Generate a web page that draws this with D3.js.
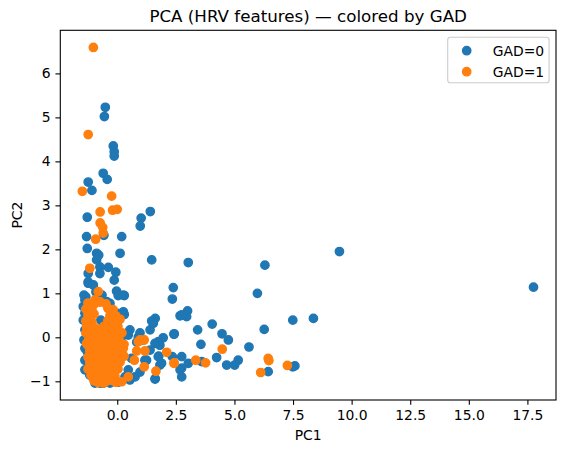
<!DOCTYPE html>
<html>
<head>
<meta charset="utf-8">
<script src="https://cdn.jsdelivr.net/npm/d3@7"></script>
<style>
  html, body { margin: 0; padding: 0; background: #fff; }
  svg { display: block; font-family: "DejaVu Sans", sans-serif; }
</style>
</head>
<body>
<svg id="chart" width="565" height="453"></svg>
<script>
// ---- data ----
const title = "PCA (HRV features) — colored by GAD";
const xLabel = "PC1";
const yLabel = "PC2";
const seriesNames = ["GAD=0", "GAD=1"];
const seriesColors = ["#1f77b4", "#ff7f0e"];
const xTicks = [0, 2.5, 5, 7.5, 10, 12.5, 15, 17.5];
const yTicks = [-1, 0, 1, 2, 3, 4, 5, 6];
const xDomain = [-2.43, 18.72];
const yDomain = [-1.425, 6.98];

const gad0 = [
  [-0.51,5.23],[-0.55,5.02],[-0.17,4.35],[-0.13,4.22],[-0.13,4.12],[-0.60,3.73],[-0.43,3.59],
  [-1.24,3.53],[-1.08,3.34],[1.41,2.86],[-1.28,2.73],[1.02,2.71],[0.98,2.53],[-1.31,2.29],
  [-0.57,2.32],[0.19,2.29],[-1.28,2.02],[0.12,1.91],[-0.88,1.91],[-0.79,1.87],[1.47,1.76],
  [3.03,1.70],[6.30,1.64],[-0.88,1.76],[-0.74,1.60],[-0.38,1.59],[-0.74,1.45],[-0.06,1.48],
  [-1.24,1.45],[-0.13,1.30],[-1.24,1.26],[2.39,1.13],[5.98,1.00],[-0.03,1.05],[0.30,0.95],
  [-1.34,0.92],[2.35,0.87],[0.04,0.95],[2.68,0.49],[3.00,0.60],[2.96,0.47],[2.75,0.51],
  [4.05,0.30],[7.49,0.39],[8.37,0.43],[9.48,1.95],[17.76,1.14],[1.62,0.43],[1.47,0.37],
  [1.40,0.17],[3.43,0.17],[6.27,0.18],[2.42,0.07],[4.47,0.08],[4.74,-0.06],[3.57,-0.16],
  [5.62,-0.22],[1.96,-0.01],[1.77,-0.43],[2.35,-0.44],[2.75,-0.44],[4.24,-0.46],[3.60,-0.55],
  [3.03,-0.59],[5.16,-0.52],[1.82,-0.63],[4.67,-0.63],[5.01,-0.63],[6.44,-0.78],[7.58,-0.65],
  [7.49,-0.67],[1.62,-0.94],[2.75,-0.90],[2.75,-0.70],[1.25,-0.52],[0.83,-0.11],[0.54,0.17],
  [0.47,0.05],[-1.24,1.23],[-1.02,1.19],[0.26,0.96],[-1.38,0.85],[-0.45,0.81],[-0.31,0.77],
  [-0.03,0.55],[0.26,0.58],[0.40,0.09],[0.90,0.01],[1.11,-0.06],[1.75,-0.10],[0.19,0.01],
  [0.61,-0.48],[1.75,-0.44],[1.18,-0.52],[0.76,-0.90],[0.33,-0.90],[-0.60,-1.04],[-1.17,-0.86],
  [-1.38,-0.25],[-1.38,-0.52],[-1.38,-0.74],[-1.45,0.39],[-1.38,0.55],[-1.45,0.70],[1.54,0.32],
  [2.43,0.08],[1.82,-0.18],[1.61,-0.14],[1.89,-0.59],[1.61,-0.95],[0.47,-0.74],[2.68,-0.74],
  [-1.38,0.17],[-1.42,-0.06],[-0.95,-1.04],[-0.31,-1.04],[0.03,-1.02],[0.54,-0.97],[0.97,-0.79],
  [1.40,-0.29],[-0.65,0.96],[-0.91,1.03],[0.97,0.10],[-1.42,0.96],[-1.28,-0.33],[-0.74,-1.04],
  [0.30,0.52],[-0.70,0.39],[-0.57,0.30]
];

const gad1 = [
  [-1.02,6.59],[-1.24,4.61],[-1.49,3.32],[-0.24,3.21],[-0.20,2.89],[0.00,2.91],[-0.73,2.85],
  [-0.73,2.60],[-0.62,2.50],[-0.60,2.37],[-0.92,2.23],[-1.17,1.57],[-0.81,1.04],[4.48,-0.27],
  [2.11,-0.34],[3.35,-0.52],[3.77,-0.58],[2.42,-0.59],[6.44,-0.48],[6.47,-0.53],[6.12,-0.80],
  [7.26,-0.64],[1.65,-0.77],[1.15,-0.67],[1.15,-0.06],[0.97,-0.06],[1.18,-0.31],[0.83,-0.31],
  [0.73,-0.52],[0.12,0.41],[0.26,-0.25],[0.19,-1.01],[0.47,-0.90],[-0.52,-1.01],[-1.02,-0.93],
  [-0.88,-0.82],[-1.31,-0.14],[-1.31,0.24],[0.90,-0.10],[2.43,-0.58],[0.04,0.39],[-0.95,0.85],
  [-0.74,0.81],[-1.14,0.68],
  [-1.25,0.78],[-0.99,0.75],[-0.74,0.80],[-0.48,0.76],
  [-1.34,0.64],[-1.08,0.62],[-0.40,0.66],[-0.18,0.63],
  [-1.25,0.51],[-0.99,0.53],[-0.31,0.50],[-0.06,0.49],
  [-1.34,0.37],[-1.08,0.35],[-0.40,0.38],[-0.14,0.36],
  [-1.25,0.23],[-0.91,0.21],[-0.57,0.25],[-0.23,0.22],[0.03,0.24],
  [-1.34,0.10],[-1.08,0.08],[-0.82,0.11],[-0.57,0.09],[-0.31,0.12],[-0.06,0.07],[0.20,0.10],
  [-1.21,-0.04],[-0.95,-0.02],[-0.70,-0.05],[-0.44,-0.03],[-0.18,-0.06],[0.07,-0.04],
  [-1.25,-0.18],[-0.99,-0.16],[-0.74,-0.19],[-0.48,-0.17],[-0.23,-0.20],[0.03,-0.18],[0.29,-0.16],
  [-1.17,-0.31],[-0.91,-0.33],[-0.65,-0.30],[-0.40,-0.32],[-0.14,-0.31],[0.12,-0.29],
  [-1.25,-0.45],[-0.99,-0.43],[-0.74,-0.46],[-0.48,-0.44],[-0.23,-0.47],[0.03,-0.45],[0.29,-0.43],
  [-1.17,-0.58],[-0.91,-0.60],[-0.65,-0.57],[-0.40,-0.59],[-0.14,-0.58],[0.12,-0.56],
  [-1.25,-0.72],[-0.99,-0.70],[-0.74,-0.73],[-0.48,-0.71],[-0.23,-0.74],[0.03,-0.72],
  [-1.12,-0.86],[-0.87,-0.84],[-0.61,-0.87],[-0.35,-0.85],[-0.10,-0.88],
  [-0.99,-0.99],[-0.74,-0.97],[-0.48,-1.00],[-0.23,-0.98],[-0.01,-1.01],
  [-0.82,-1.03],[-0.57,-1.04],[-0.06,-1.02]
];

const series = [gad0, gad1];

// ---- layout ----
const svg = d3.select("#chart");
const plot = { left: 60.3, right: 556, top: 30.3, bottom: 400 };

const x = d3.scaleLinear().domain(xDomain).range([plot.left, plot.right]);
const y = d3.scaleLinear().domain(yDomain).range([plot.bottom, plot.top]);

const markerR = 4.17;
const markerStroke = 1.39;

// points
series.forEach((data, i) => {
  svg.append("g")
    .selectAll("circle")
    .data(data)
    .join("circle")
    .attr("cx", d => x(d[0]))
    .attr("cy", d => y(d[1]))
    .attr("r", markerR)
    .attr("fill", seriesColors[i])
    .attr("stroke", seriesColors[i])
    .attr("stroke-width", markerStroke);
});

// axes
const fmtX = d => d3.format(".1f")(d);
const fmtY = d => (d < 0 ? "\u2212" + Math.abs(d) : String(d));

const xAxis = svg.append("g")
  .attr("transform", `translate(0,${plot.bottom})`)
  .call(d3.axisBottom(x).tickValues(xTicks).tickFormat(fmtX).tickSize(4.86).tickPadding(4.86).tickSizeOuter(0));
const yAxis = svg.append("g")
  .attr("transform", `translate(${plot.left},0)`)
  .call(d3.axisLeft(y).tickValues(yTicks).tickFormat(fmtY).tickSize(4.86).tickPadding(4.86).tickSizeOuter(0));

[xAxis, yAxis].forEach(a => {
  a.select(".domain").remove();
  a.selectAll(".tick line").attr("stroke", "#000").attr("stroke-width", 1.1);
  a.selectAll(".tick text")
    .attr("fill", "#000")
    .style("font-family", "DejaVu Sans")
    .style("font-size", "13.9px");
});

// spines
svg.append("rect")
  .attr("x", plot.left).attr("y", plot.top)
  .attr("width", plot.right - plot.left).attr("height", plot.bottom - plot.top)
  .attr("fill", "none").attr("stroke", "#000").attr("stroke-width", 1.1);

// title & labels
svg.append("text")
  .attr("x", (plot.left + plot.right) / 2).attr("y", 22)
  .attr("text-anchor", "middle")
  .style("font-size", "16.7px")
  .text(title);

svg.append("text")
  .attr("x", (plot.left + plot.right) / 2).attr("y", 440)
  .attr("text-anchor", "middle")
  .style("font-size", "13.9px")
  .text(xLabel);

svg.append("text")
  .attr("transform", `translate(17.5,${(plot.top + plot.bottom) / 2}) rotate(-90)`)
  .attr("text-anchor", "middle")
  .attr("dy", "0.35em")
  .style("font-size", "13.9px")
  .text(yLabel);

// legend
const lg = svg.append("g");
lg.append("rect")
  .attr("x", 447.7).attr("y", 37.2)
  .attr("width", 549.1 - 447.7).attr("height", 82.7 - 37.2)
  .attr("rx", 2.8).attr("ry", 2.8)
  .attr("fill", "#fff").attr("fill-opacity", 0.8)
  .attr("stroke", "#cccccc").attr("stroke-width", 1.1);

seriesNames.forEach((name, i) => {
  const cy = 50.7 + i * 21;
  lg.append("circle")
    .attr("cx", 466.7).attr("cy", cy).attr("r", markerR)
    .attr("fill", seriesColors[i]).attr("stroke", seriesColors[i]).attr("stroke-width", markerStroke);
  lg.append("text")
    .attr("x", 492.7).attr("y", cy).attr("dy", "0.36em")
    .style("font-size", "13.9px")
    .text(name);
});
</script>
</body>
</html>
